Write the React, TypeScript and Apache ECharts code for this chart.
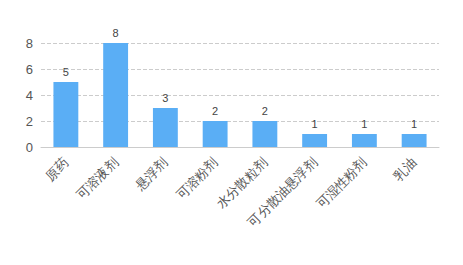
import React, { useEffect, useRef } from "react";
import * as echarts from "echarts";

const categories = ["原药", "可溶液剂", "悬浮剂", "可溶粉剂", "水分散粒剂", "可分散油悬浮剂", "可湿性粉剂", "乳油"];
const values = [5, 8, 3, 2, 2, 1, 1, 1];

export default function App() {
  const ref = useRef<HTMLDivElement>(null);
  useEffect(() => {
    const chart = echarts.init(ref.current!, null, { renderer: "svg" });
    chart.setOption({
      animation: false,
      grid: { left: 41, right: 24, top: 43, bottom: 118 },
      xAxis: {
        type: "category",
        data: categories,
        axisLine: { lineStyle: { color: "#ccc" } },
        axisTick: { alignWithLabel: true, lineStyle: { color: "#ccc" } },
        axisLabel: { rotate: 45, color: "#555", fontSize: 13, interval: 0, margin: 13 },
      },
      yAxis: {
        type: "value",
        min: 0,
        max: 8,
        interval: 2,
        axisLine: { show: false },
        axisTick: { show: false },
        axisLabel: { color: "#555", fontSize: 13, margin: 8 },
        splitLine: { lineStyle: { type: "dashed", color: "#ccc" } },
      },
      series: [
        {
          type: "bar",
          data: values,
          barWidth: "50%",
          itemStyle: { color: "#5aaef5" },
          label: { show: true, position: "top", color: "#444", fontSize: 11 },
        },
      ],
    });
    return () => chart.dispose();
  }, []);
  return <div ref={ref} style={{ width: 463, height: 265, position: "absolute", left: 0, top: 0 }} />;
}
